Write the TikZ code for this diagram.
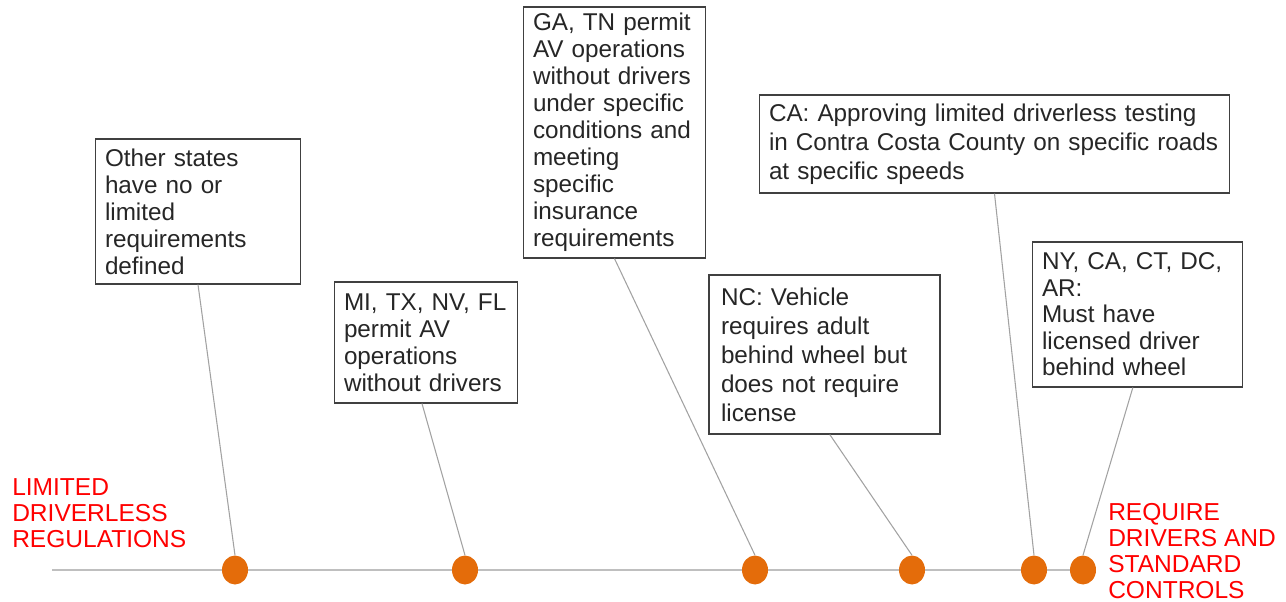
\documentclass[tikz,border=0pt]{standalone}
\usepackage{fontspec}
\setmainfont{Liberation Sans}
\usetikzlibrary{shapes.geometric}
\definecolor{dotorange}{HTML}{E46C0A}
\definecolor{linegray}{HTML}{BFBFBF}
\definecolor{boxline}{HTML}{404040}
\definecolor{labelred}{HTML}{FF0000}
\begin{document}
\begin{tikzpicture}[x=0.75pt,y=-0.75pt,
  txtbox/.style={draw=boxline, line width=0.9pt, align=left, inner xsep=7pt, inner ysep=0pt,
     font=\fontsize{18.2}{20.25}\selectfont, text=black!85},
  dot/.style={ellipse, fill=dotorange, draw=none, minimum width=19.5pt, minimum height=21.75pt, inner sep=0pt},
  conn/.style={draw=linegray!85!black, line width=0.8pt},
  endlabel/.style={align=left, anchor=west, inner sep=0pt, text=labelred, font=\fontsize{18.4}{19.5}\selectfont}]
\useasboundingbox (0,0) rectangle (1286,602);
% timeline
\coordinate (tl0) at (52,570);
\coordinate (tl1) at (1096,570);
\draw[draw=linegray, line width=1pt] (tl0) -- (tl1);
% dots
\node[dot] (d1) at (235,570) {};
\node[dot] (d2) at (465,570) {};
\node[dot] (d3) at (755,570) {};
\node[dot] (d4) at (912,570) {};
\node[dot] (d5) at (1034,570) {};
\node[dot] (d6) at (1083,570) {};
% boxes
\node[txtbox, text width=139.5pt, minimum width=153pt, minimum height=108.75pt] (b1) at (198,211.5)
  {Other states\\have no or\\limited\\requirements\\defined};
\node[txtbox, text width=123pt, minimum width=136.5pt, minimum height=90.75pt] (b2) at (426,342.5)
  {MI, TX, NV, FL\\permit AV\\operations\\without drivers};
\node[txtbox, text width=122.25pt, minimum width=135.75pt, minimum height=188.25pt] (b3) at (614.5,132.5)
  {GA, TN permit\\AV operations\\without drivers\\under specific\\conditions and\\meeting\\specific\\insurance\\requirements};
\node[txtbox, text width=338.25pt, minimum width=351.75pt, minimum height=73.5pt, font=\fontsize{18.2}{21.75}\selectfont] (b4) at (994.5,144)
  {CA: Approving limited driverless testing\\in Contra Costa County on specific roads\\at specific speeds};
\node[txtbox, text width=155.25pt, minimum width=173.25pt, minimum height=119.25pt, inner xsep=9pt, font=\fontsize{18.2}{21.75}\selectfont] (b5) at (824.5,354.5)
  {NC: Vehicle\\requires adult\\behind wheel but\\does not require\\license};
\node[txtbox, text width=143.25pt, minimum width=156.75pt, minimum height=108.75pt, font=\fontsize{18.2}{19.9}\selectfont] (b6) at (1137.5,314.5)
  {NY, CA, CT, DC,\\AR:\\Must have\\licensed driver\\behind wheel};
% connectors
\draw[conn] (b1.south) -- (d1.north);
\draw[conn] ([xshift=-3pt]b2.south) -- (d2.north);
\draw[conn] (b3.south) -- (d3.north);
\draw[conn] (b4.south) -- (d5.north);
\draw[conn] ([xshift=4pt]b5.south) -- (d4.north);
\draw[conn] ([xshift=-3.5pt]b6.south) -- (d6.north);
% end labels
\node[endlabel] (lleft) at (12,513) {LIMITED\\DRIVERLESS\\REGULATIONS};
\node[endlabel] (lright) at (1108,551) {REQUIRE\\DRIVERS AND\\STANDARD\\CONTROLS};
\end{tikzpicture}
\end{document}
